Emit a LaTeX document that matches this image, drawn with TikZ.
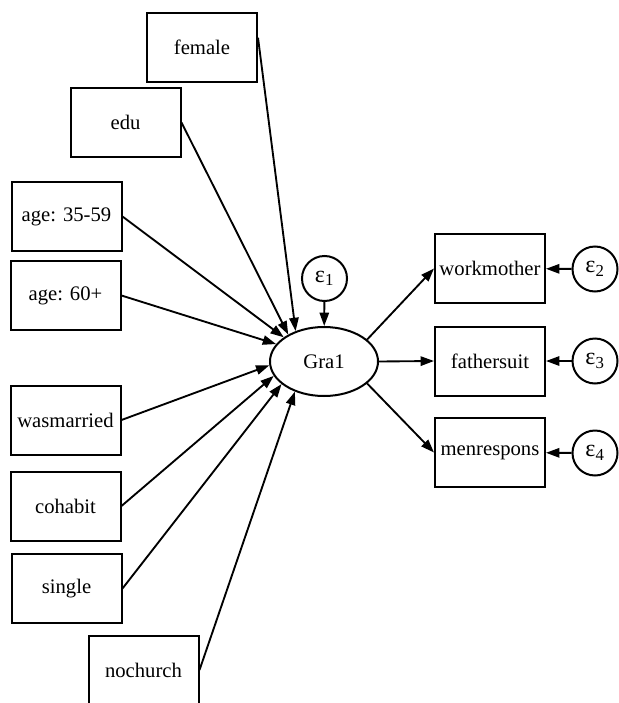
\documentclass[tikz,border=0pt]{standalone}
\usepackage{fontspec}
\setmainfont{Liberation Serif}
\usetikzlibrary{shapes.geometric,arrows.meta}

\begin{document}
\begin{tikzpicture}[
  x=0.75pt, y=-0.75pt,
  every node/.style={draw, line width=1.5pt, font=\fontsize{15.5}{18}\selectfont},
  obs/.style={rectangle, minimum width=82.5pt, minimum height=51.75pt},
  lat/.style={ellipse, minimum width=81pt, minimum height=51.75pt},
  err/.style={circle, minimum size=33.75pt, inner sep=0pt, font=\fontsize{18}{20}\selectfont},
  path/.style={line width=1.4pt, -{Triangle[length=10pt, width=7pt]}}
]
  \useasboundingbox (0,0) rectangle (618,703);

  % exogenous variables
  \node[obs] (female)  at (202.0, 47.5) {female};
  \node[obs] (edu)     at (125.5,122.5) {edu};
  \node[obs] (age1)    at ( 66.5,216.5) {age: 35-59};
  \node[obs] (age2)    at ( 65.5,295.5) {age: 60+};
  \node[obs] (wasmar)  at ( 65.5,420.0) {wasmarried};
  \node[obs] (cohab)   at ( 65.5,506.0) {cohabit};
  \node[obs] (single)  at ( 66.5,588.5) {single};
  \node[obs] (nochur)  at (143.5,670.0) {nochurch};

  % latent variable and indicators
  \node[lat] (gra) at (324.0,361.5) {Gra1};
  \node[err] (e1)  at (324.5,278.5) {ε\textsubscript{1}};

  \node[obs] (work)   at (490.0,268.5) {workmother};
  \node[obs] (father) at (490.0,361.0) {fathersuit};
  \node[obs] (men)    at (490.0,452.5) {menrespons};
  \node[err] (e2) at (595.0,269.0) {ε\textsubscript{2}};
  \node[err] (e3) at (595.0,361.0) {ε\textsubscript{3}};
  \node[err] (e4) at (595.0,453.0) {ε\textsubscript{4}};

  \draw[path] (female.10) -- (gra.133);
  \draw[path] (edu.east)  -- (gra.143);
  \draw[path] (age1.east) -- (gra.149);
  \draw[path] (age2.east) -- (gra.160);
  \draw[path] (wasmar.east) -- (gra.184);
  \draw[path] (cohab.east)  -- (gra.196);
  \draw[path] (single.east) -- (gra.208);
  \draw[path] (nochur.east) -- (gra.226);

  \draw[path] (e1) -- (gra);
  \draw[path] (gra.27)   -- (work.west);
  \draw[path] (gra.east) -- (father.west);
  \draw[path] (gra.-27)  -- (men.west);
  \draw[path] (e2) -- (work);
  \draw[path] (e3) -- (father);
  \draw[path] (e4) -- (men);
\end{tikzpicture}
\end{document}
